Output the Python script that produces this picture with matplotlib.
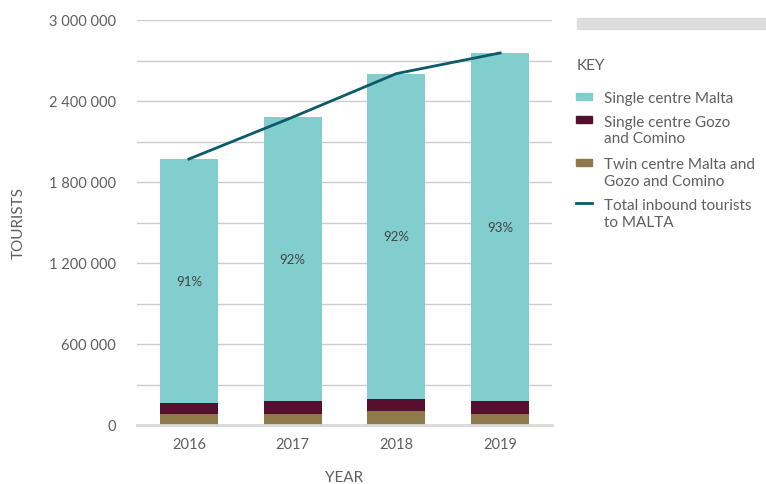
import matplotlib
matplotlib.use("Agg")
import matplotlib.pyplot as plt
from matplotlib.patches import Rectangle
from matplotlib.lines import Line2D
import numpy as np

years = ["2016", "2017", "2018", "2019"]
total = [1970000, 2280000, 2603000, 2756000]
twin_centre = [85000, 85000, 105000, 85000]
gozo_comino = [80000, 95000, 90000, 95000]
malta_share = ["91%", "92%", "92%", "93%"]
series_names = ["Single centre Malta", "Single centre Gozo\nand Comino",
                "Twin centre Malta and\nGozo and Comino", "Total inbound tourists\nto MALTA"]
yticks = [0, 600000, 1200000, 1800000, 2400000, 3000000]
ytick_labels = ["0", "600 000", "1 200 000", "1 800 000", "2 400 000", "3 000 000"]

single_malta = [t - a - b for t, a, b in zip(total, twin_centre, gozo_comino)]

c_malta = "#82cdcd"
c_gozo = "#560f2e"
c_twin = "#8f7a4b"
c_line = "#0d5a6b"
txt = "#5f5f5f"
font = "Lato"

fig = plt.figure(figsize=(7.66, 4.85), dpi=100)
ax = fig.add_axes([137/766, 1-426/485, 415/766, 405/485])

x = np.arange(len(years))
w = 0.56
ax.bar(x, twin_centre, w, color=c_twin, zorder=3)
b2 = np.array(twin_centre)
ax.bar(x, gozo_comino, w, bottom=b2, color=c_gozo, zorder=3)
b3 = b2 + np.array(gozo_comino)
ax.bar(x, single_malta, w, bottom=b3, color=c_malta, zorder=3)
ax.plot(x, total, color=c_line, lw=2, zorder=4)

for xi, base, h, lab in zip(x, b3, single_malta, malta_share):
    ax.text(xi, base + h/2, lab, ha="center", va="center", fontsize=9.5,
            color="#444444", family=font, zorder=5)

grid_vals = np.arange(0, 3000001, 300000)
labels_map = dict(zip(yticks, ytick_labels))
ax.set_xlim(-0.5, 3.5)
ax.set_ylim(0, 3000000)
ax.set_yticks(grid_vals)
ax.set_yticklabels([labels_map.get(int(v), "") for v in grid_vals])
ax.set_xticks(x)
ax.set_xticklabels(years)
ax.grid(axis="y", color="#cccccc", lw=1, zorder=0)
for s in ["top", "right", "left"]:
    ax.spines[s].set_visible(False)
ax.spines["bottom"].set_color("#d9d9d9")
ax.spines["bottom"].set_linewidth(2)
ax.spines["bottom"].set_zorder(5)
ax.tick_params(axis="both", length=0, labelsize=10.5, labelcolor=txt)
ax.tick_params(axis="y", pad=15)
ax.tick_params(axis="x", pad=9)
for lab in ax.get_xticklabels() + ax.get_yticklabels():
    lab.set_family(font)

ax.set_ylabel("TOURISTS", fontsize=11, color=txt, family=font)
ax.yaxis.set_label_coords(-0.268, 0.5)
ax.set_xlabel("YEAR", fontsize=11, color=txt, family=font, va="bottom")
ax.xaxis.set_label_coords(0.5, -0.1455)

# legend / key panel
fig.patches.append(Rectangle((577/766, 1-30/485), 189/766, 11/485,
                             transform=fig.transFigure, color="#dedede"))
fig.text(577/766, 1-66/485, "KEY", fontsize=11, color=txt, family=font, va="center")
handles_y = [97, 120, 163, 204]
colors = [c_malta, c_gozo, c_twin]
for i, (yy, name) in enumerate(zip(handles_y, series_names)):
    if i < 3:
        fig.patches.append(Rectangle((576/766, 1-(yy+3.5)/485), 16/766, 7/485,
                                     transform=fig.transFigure, color=colors[i]))
    else:
        fig.lines.append(Line2D([576/766, 592/766], [1-yy/485, 1-yy/485],
                                transform=fig.transFigure, color=c_line, lw=2))
    fig.text(604/766, 1-(yy-4.5)/485, name, fontsize=11, color=txt, family=font,
             va="top", linespacing=1.2)

fig.savefig("out.png", dpi=100)
